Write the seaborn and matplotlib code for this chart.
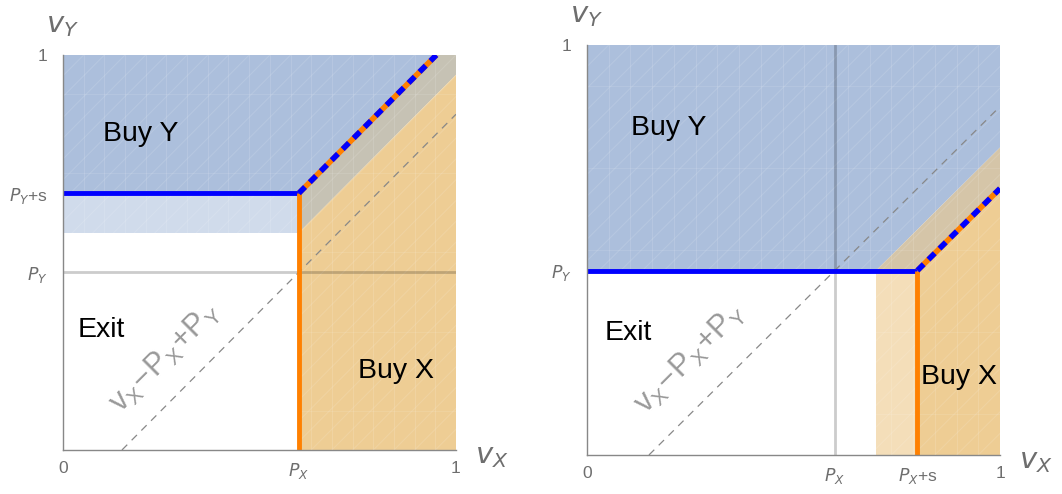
import numpy as np
import matplotlib
matplotlib.use("Agg")
import matplotlib.pyplot as plt
import seaborn as sns
from matplotlib.patches import Polygon

sns.set_theme(style="white")
plt.rcParams['font.family'] = ['Liberation Sans', 'DejaVu Sans']
plt.rcParams['mathtext.fontset'] = 'dejavusans'

# ---- data ----
PX = 0.6
PY = 0.45
S = 0.2
GAP_LEFT = 0.1      # light-blue band height below PY+s (left panel)
GAP_RIGHT = 0.1     # light-orange band width left of PX+s (right panel)

left_xticks = [0, PX, 1]
left_xticklabels = ["0", r"$P_X$", "1"]
left_yticks = [PY, PY + S, 1]
left_yticklabels = [r"$P_Y$", r"$P_Y$+s", "1"]

right_xticks = [0, PX, PX + S, 1]
right_xticklabels = ["0", r"$P_X$", r"$P_X$+s", "1"]
right_yticks = [PY, 1]
right_yticklabels = [r"$P_Y$", "1"]

region_labels = ["Buy Y", "Exit", "Buy X"]

BLUE = "#acbfdc"
LBLUE = "#d0dbeb"
ORANGE = "#eecd94"
LORANGE = "#f4deb9"
GRAY_L = "#c6c2b4"
GRAY_R = "#d5c5a8"
LINE_BLUE = "#0000ff"
LINE_OR = "#ff8000"
TXT_GRAY = "#6e6e6e"

fig = plt.figure(figsize=(10.62, 4.94), dpi=100)
axL = fig.add_axes([63/1062, 44/494, 393/1062, 395/494])
axR = fig.add_axes([587/1062, 39/494, 413/1062, 410/494])


def poly(ax, pts, color, z=1):
    ax.add_patch(Polygon(pts, closed=True, facecolor=color, edgecolor="none", zorder=z))


def texture(ax):
    step = 1/19
    for k in np.arange(-1, 2, step):
        ax.plot([k, k + 1.2], [0, 1.2], color="white", alpha=0.12, lw=0.8, zorder=2)
    for k in np.arange(step, 1, step):
        ax.plot([k, k], [0, 1], color="white", alpha=0.12, lw=0.8, zorder=2)
    for k in np.arange(0.1, 1, 0.2):
        ax.plot([0, 1], [k, k], color="white", alpha=0.10, lw=0.8, zorder=2)


def style(ax, xt, xtl, yt, ytl):
    ax.set_xlim(0, 1)
    ax.set_ylim(0, 1)
    for sp in ["top", "right"]:
        ax.spines[sp].set_visible(False)
    for sp in ["left", "bottom"]:
        ax.spines[sp].set_color("#888888")
        ax.spines[sp].set_linewidth(1.0)
        ax.spines[sp].set_zorder(6)
    ax.set_xticks(xt)
    ax.set_xticklabels(xtl)
    ax.set_yticks(yt)
    ax.set_yticklabels(ytl)
    ax.tick_params(axis="both", width=0.8, color="#aaaaaa",
                   labelsize=12.5, labelcolor=TXT_GRAY, pad=8, direction="out")
    ax.tick_params(axis="x", length=0)
    ax.tick_params(axis="y", length=3)
    ax.set_facecolor("white")
    ax.annotate(r"$v_Y$", xy=(0, 1), xycoords="axes fraction", xytext=(0, 30),
                textcoords="offset pixels", fontsize=21, color=TXT_GRAY,
                ha="center", va="center", annotation_clip=False)
    ax.annotate(r"$v_X$", xy=(1, 0), xycoords="axes fraction", xytext=(36, -6),
                textcoords="offset pixels", fontsize=21, color=TXT_GRAY,
                ha="center", va="center", annotation_clip=False)


LABEL = r"$\mathregular{v_X\!-\!P_X\!+\!P_Y}$"
FS = 20.5

# ---------------- left panel ----------------
ax = axL
yk = PY + S
yl = yk - GAP_LEFT
poly(ax, [(0, yk), (PX, yk), (PX + 1 - yk, 1), (0, 1)], BLUE)
poly(ax, [(0, yl), (PX, yl), (PX, yk), (0, yk)], LBLUE)
poly(ax, [(PX, yl), (PX, yk), (PX + 1 - yk, 1), (1, 1), (1, 1 - PX + yl)], GRAY_L)
poly(ax, [(PX, 0), (1, 0), (1, 1 - PX + yl), (PX, yl)], ORANGE)
texture(ax)
ax.plot([0, 1], [PY, PY], color="black", alpha=0.2, lw=2, zorder=3)
xs = np.array([PX - PY, 1])
ax.plot(xs, xs - PX + PY, color="#888888", lw=0.9, dashes=(6, 5), zorder=3)
ax.plot([0, PX], [yk, yk], color=LINE_BLUE, lw=3.5, zorder=5, solid_capstyle="butt")
ax.plot([PX, PX], [0, yk], color=LINE_OR, lw=3.5, zorder=5, solid_capstyle="butt")
dx = [PX, PX + 1 - yk]
dy = [yk, 1]
ax.plot(dx, dy, color=LINE_OR, lw=4, zorder=5, solid_capstyle="butt")
ax.plot(dx, dy, color=LINE_BLUE, lw=4, zorder=5, dashes=(1.6, 1.2), solid_capstyle="butt")
ax.text(0.198, 0.80, region_labels[0], fontsize=FS, color="black", ha="center", va="center", zorder=7)
ax.text(0.097, 0.304, region_labels[1], fontsize=FS, color="black", ha="center", va="center", zorder=7)
ax.text(0.847, 0.20, region_labels[2], fontsize=FS, color="black", ha="center", va="center", zorder=7)
ax.text(0.26, 0.235, LABEL, fontsize=22, color="#999999",
        rotation=45, ha="center", va="center", zorder=7)
style(ax, left_xticks, left_xticklabels, left_yticks, left_yticklabels)

# ---------------- right panel ----------------
ax = axR
xk = PX + S
xl = xk - GAP_RIGHT
poly(ax, [(0, PY), (xl, PY), (1, 1 - xl + PY), (1, 1), (0, 1)], BLUE)
poly(ax, [(xl, 0), (xk, 0), (xk, PY), (xl, PY)], LORANGE)
poly(ax, [(xl, PY), (xk, PY), (1, 1 - xk + PY), (1, 1 - xl + PY)], GRAY_R)
poly(ax, [(xk, 0), (1, 0), (1, 1 - xk + PY), (xk, PY)], ORANGE)
texture(ax)
ax.plot([PX, PX], [0, 1], color="black", alpha=0.2, lw=2, zorder=3)
ax.plot(xs, xs - PX + PY, color="#888888", lw=0.9, dashes=(6, 5), zorder=3)
ax.plot([0, xk], [PY, PY], color=LINE_BLUE, lw=3.5, zorder=5, solid_capstyle="butt")
ax.plot([xk, xk], [0, PY], color=LINE_OR, lw=3.5, zorder=5, solid_capstyle="butt")
dx = [xk, 1]
dy = [PY, PY + 1 - xk]
ax.plot(dx, dy, color=LINE_OR, lw=4, zorder=5, solid_capstyle="butt")
ax.plot(dx, dy, color=LINE_BLUE, lw=4, zorder=5, dashes=(1.6, 1.2), solid_capstyle="butt")
ax.text(0.199, 0.797, region_labels[0], fontsize=FS, color="black", ha="center", va="center", zorder=7)
ax.text(0.10, 0.298, region_labels[1], fontsize=FS, color="black", ha="center", va="center", zorder=7)
ax.text(0.90, 0.19, region_labels[2], fontsize=FS, color="black", ha="center", va="center", zorder=7)
ax.text(0.25, 0.235, LABEL, fontsize=22, color="#999999",
        rotation=45, ha="center", va="center", zorder=7)
style(ax, right_xticks, right_xticklabels, right_yticks, right_yticklabels)

fig.savefig("out.png", dpi=100)
